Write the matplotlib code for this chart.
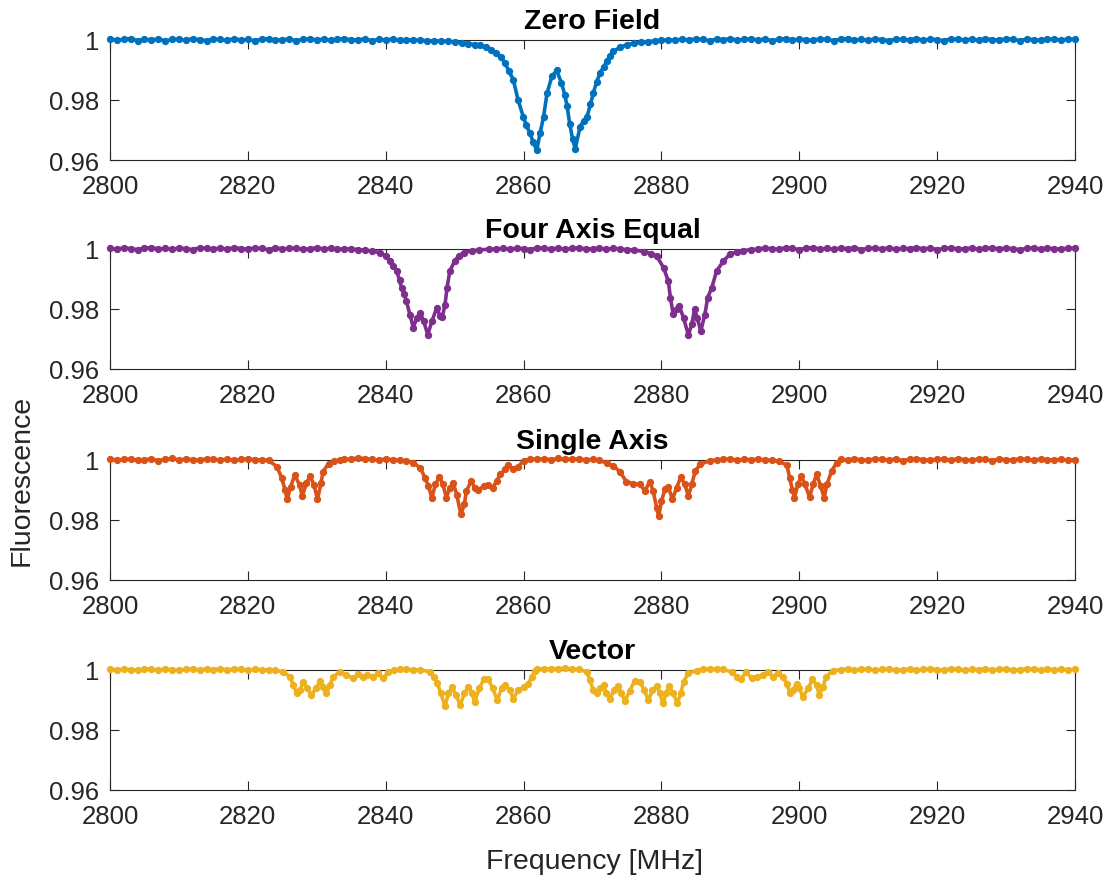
import numpy as np
import matplotlib.pyplot as plt

plt.rcParams['font.family'] = ['Liberation Sans', 'DejaVu Sans']

# ODMR spectra, normalised fluorescence vs microwave frequency (MHz)

zero_field_freq = [*range(2800, 2849),
    2849, 2850, 2851, 2852, 2853, 2853.7, 2854.5, 2855.3, 2856, 2856.7,
    2857.3, 2857.9, 2858.5, 2859.2, 2859.95, 2860.4, 2860.9, 2861.4, 2861.9, 2862.4,
    2862.9, 2863.4, 2864.1, 2864.8, 2865.5, 2866.0, 2866.3, 2866.7, 2867.1, 2867.5,
    2868.2, 2868.7, 2869.2, 2869.7, 2870.1, 2870.6, 2871.1, 2871.6, 2872.1, 2872.5,
    2873.0, 2874, 2875, 2876, 2877, 2878, 2879, 2880,
    *range(2881, 2941)]
zero_field = [
    1.0003, 0.9998, 1.0001, 1.0004, 0.9997, 1.0002, 0.9999, 1.0003, 0.9996, 1.0001,
    1.0002, 0.9998, 1.0004, 1.0000, 0.9997, 1.0002, 1.0001, 0.9998, 1.0003, 0.9999,
    1.0001, 0.9996, 1.0002, 1.0003, 0.9998, 1.0000, 1.0002, 0.9997, 1.0001, 1.0003,
    0.9999, 1.0002, 0.9998, 1.0001, 1.0004, 0.9999, 1.0000, 1.0002, 0.9997, 1.0001,
    0.9999, 1.0002, 0.9998, 1.0000, 0.9999, 0.9998, 0.9997, 0.9996, 0.9996,
    0.9995, 0.9993, 0.9990, 0.9987, 0.9984, 0.9982, 0.9975, 0.9966, 0.9955, 0.9942,
    0.9922, 0.9895, 0.9867, 0.9800, 0.9744, 0.9715, 0.9690, 0.9660, 0.9633, 0.9690,
    0.9744, 0.9822, 0.9878, 0.9898, 0.9856, 0.9815, 0.9780, 0.9720, 0.9670, 0.9638,
    0.9711, 0.9730, 0.9744, 0.9785, 0.9822, 0.9860, 0.9889, 0.9910, 0.9928, 0.9945,
    0.9961, 0.9975, 0.9983, 0.9988, 0.9992, 0.9994, 0.9996, 0.9998,
    1.0000, 0.9998, 1.0002, 0.9999, 1.0003, 1.0001, 0.9997, 1.0002, 1.0000, 1.0004,
    0.9998, 1.0001, 1.0003, 0.9999, 1.0002, 0.9997, 1.0001, 1.0004, 0.9999, 1.0002,
    1.0000, 0.9998, 1.0003, 1.0001, 0.9997, 1.0002, 1.0004, 0.9999, 1.0001, 0.9998,
    1.0003, 1.0000, 0.9997, 1.0002, 1.0001, 0.9999, 1.0004, 0.9998, 1.0002, 1.0000,
    0.9997, 1.0003, 1.0001, 0.9999, 1.0002, 0.9998, 1.0004, 1.0000, 0.9999, 1.0003,
    1.0001, 0.9997, 1.0002, 1.0000, 0.9998, 1.0003, 1.0001, 0.9999, 1.0002, 1.0001]

four_axis_freq = [*range(2800, 2837),
    2837, 2838, 2839.2, 2840, 2840.6, 2841.1, 2841.6, 2842.0, 2842.3, 2842.7,
    2843.0, 2843.5, 2844.0, 2844.5, 2845.0, 2845.5, 2846.1, 2846.7, 2847.4, 2847.9,
    2848.2, 2848.6, 2848.9, 2849.3, 2850.0, 2850.6, 2851.3, 2852.5, 2853.5, 2855,
    *range(2856, 2877),
    2877.5, 2878.5, 2879.3, 2880.3, 2881.0, 2881.3, 2881.7, 2882.2, 2882.6, 2883.2,
    2883.9, 2884.4, 2884.8, 2885.2, 2885.7, 2886.3, 2886.7, 2887.3, 2888.0, 2889.0,
    2889.9, 2891.0, 2891.9, 2893.0,
    *range(2894, 2941)]
four_axis = [
    1.0001, 0.9998, 1.0003, 1.0000, 0.9997, 1.0002, 1.0004, 0.9999, 1.0001, 0.9998,
    1.0002, 1.0000, 0.9997, 1.0003, 1.0001, 0.9999, 1.0002, 0.9998, 1.0004, 1.0000,
    0.9999, 1.0002, 1.0001, 0.9997, 1.0003, 0.9999, 1.0001, 1.0002, 0.9998, 1.0000,
    1.0003, 0.9999, 1.0001, 0.9998, 1.0000, 0.9999, 0.9997,
    0.9995, 0.9992, 0.9987, 0.9975, 0.9959, 0.9943, 0.9926, 0.9895, 0.9870, 0.9848,
    0.9826, 0.9781, 0.9737, 0.9770, 0.9787, 0.9759, 0.9714, 0.9759, 0.9803, 0.9776,
    0.9772, 0.9814, 0.9870, 0.9926, 0.9959, 0.9976, 0.9987, 0.9993, 0.9996, 0.9998,
    0.9999, 1.0001, 0.9998, 1.0002, 1.0000, 0.9997, 1.0003, 1.0001, 0.9999, 1.0002,
    0.9998, 1.0001, 1.0003, 0.9999, 1.0000, 1.0002, 0.9998, 1.0001, 0.9999, 0.9997,
    0.9996,
    0.9990, 0.9984, 0.9976, 0.9937, 0.9892, 0.9837, 0.9783, 0.9800, 0.9809, 0.9770,
    0.9714, 0.9748, 0.9798, 0.9770, 0.9726, 0.9781, 0.9837, 0.9870, 0.9926, 0.9959,
    0.9981, 0.9990, 0.9994, 0.9997,
    0.9999, 1.0002, 1.0000, 0.9998, 1.0003, 1.0001, 0.9997, 1.0002, 1.0004, 0.9999,
    1.0001, 0.9998, 1.0002, 1.0000, 1.0003, 0.9997, 1.0001, 1.0002, 0.9999, 1.0003,
    0.9998, 1.0001, 1.0000, 1.0004, 0.9999, 1.0002, 0.9997, 1.0001, 1.0003, 0.9999,
    1.0000, 1.0002, 0.9998, 1.0001, 1.0003, 0.9999, 1.0002, 1.0000, 0.9997, 1.0001,
    1.0003, 0.9999, 1.0002, 1.0000, 0.9998, 1.0002, 1.0001]

single_axis_freq = [*range(2800, 2824),
    2824.2, 2824.9, 2825.4, 2825.7, 2826.2, 2826.8, 2827.5, 2827.9, 2828.5, 2829.0,
    2829.6, 2830.1, 2830.6, 2830.9, 2831.7, 2832.5, 2833.4,
    *range(2834, 2844),
    2844.0, 2845.0, 2845.7, 2846.2, 2846.7, 2847.2, 2847.8, 2848.3, 2848.8, 2849.3,
    2849.8, 2850.3, 2850.9, 2851.4, 2851.7, 2852.4, 2852.9, 2853.4, 2854.2, 2854.9,
    2855.5, 2856.1, 2856.6, 2857.3, 2857.8, 2858.5, 2859.2, 2860.0,
    *range(2861, 2872),
    2872.1, 2873.0, 2874.0, 2874.9, 2875.9, 2876.9, 2877.6, 2878.3, 2878.8, 2879.3,
    2879.6, 2880.0, 2880.5, 2881.0, 2881.6, 2882.2, 2882.8, 2883.4, 2883.9, 2884.4,
    2884.9, 2885.6, 2887.0,
    *range(2888, 2898),
    2898.2, 2898.6, 2899.0, 2899.3, 2899.8, 2900.3, 2900.8, 2901.5, 2902.0, 2902.5,
    2903.1, 2903.6, 2904.0, 2904.7, 2905.4,
    *range(2906, 2941)]
single_axis = [
    1.0002, 0.9999, 1.0001, 1.0003, 0.9998, 1.0000, 1.0002, 0.9997, 1.0001, 1.0004,
    0.9999, 1.0002, 1.0000, 0.9998, 1.0003, 1.0001, 0.9999, 1.0002, 0.9998, 1.0001,
    1.0003, 1.0000, 0.9999, 0.9998,
    0.9977, 0.9940, 0.9899, 0.9868, 0.9910, 0.9949, 0.9916, 0.9879, 0.9921, 0.9946,
    0.9916, 0.9868, 0.9921, 0.9960, 0.9987, 0.9995, 0.9999,
    1.0001, 1.0002, 1.0006, 1.0003, 1.0001, 0.9999, 1.0002, 1.0000, 0.9998, 0.9996,
    0.9990, 0.9973, 0.9940, 0.9912, 0.9873, 0.9918, 0.9942, 0.9918, 0.9873, 0.9907,
    0.9923, 0.9884, 0.9818, 0.9851, 0.9896, 0.9929, 0.9907, 0.9898, 0.9912, 0.9916,
    0.9907, 0.9929, 0.9951, 0.9968, 0.9982, 0.9968, 0.9976, 0.9997,
    1.0001, 1.0003, 1.0002, 1.0000, 1.0004, 1.0002, 1.0001, 1.0003, 0.9999, 1.0001,
    0.9998,
    0.9988, 0.9979, 0.9960, 0.9927, 0.9920, 0.9918, 0.9896, 0.9927, 0.9896, 0.9840,
    0.9812, 0.9862, 0.9901, 0.9909, 0.9868, 0.9907, 0.9942, 0.9918, 0.9879, 0.9918,
    0.9962, 0.9984, 0.9997,
    0.9999, 1.0001, 1.0002, 0.9998, 1.0001, 1.0000, 1.0002, 0.9999, 0.9998, 0.9995,
    0.9982, 0.9939, 0.9899, 0.9874, 0.9918, 0.9946, 0.9918, 0.9876, 0.9918, 0.9951,
    0.9912, 0.9873, 0.9918, 0.9962, 0.9990,
    1.0001, 0.9999, 1.0002, 1.0000, 0.9998, 1.0003, 1.0001, 0.9999, 1.0002, 0.9997,
    1.0001, 1.0003, 1.0000, 0.9998, 1.0002, 1.0001, 0.9999, 1.0003, 1.0000, 0.9998,
    1.0002, 1.0001, 0.9997, 1.0002, 1.0000, 0.9999, 1.0003, 1.0001, 0.9998, 1.0002,
    1.0000, 0.9999, 1.0001, 0.9998, 1.0000]

vector_freq = [*range(2800, 2825),
    2825.1, 2826.1, 2826.6, 2827.1, 2827.6, 2828.0, 2828.6, 2829.2, 2829.9, 2830.5,
    2830.9, 2831.4, 2831.9, 2832.4, 2833.4, 2834.3, 2835.3, 2836.0, 2836.7, 2837.3,
    2838.2, 2838.9, 2839.6, 2840.4, 2841.2,
    *range(2842, 2846),
    2846.4, 2847.0, 2847.5, 2848.0, 2848.6, 2849.1, 2849.6, 2850.2, 2850.8, 2851.4,
    2852.0, 2852.5, 2852.9, 2853.6, 2854.2, 2854.9, 2855.5, 2856.2, 2856.8, 2857.3,
    2858.0, 2858.5, 2859.2, 2860.0, 2860.7, 2861.2, 2861.7,
    *range(2862, 2869),
    2869.2, 2869.6, 2870.1, 2870.6, 2871.1, 2871.6, 2872.0, 2872.5, 2873.1, 2873.7,
    2874.2, 2874.7, 2875.4, 2876.1, 2876.9, 2877.5, 2878.1, 2878.7, 2879.3, 2879.8,
    2880.2, 2880.7, 2881.1, 2881.7, 2882.3, 2882.8, 2883.2, 2883.9, 2885.1,
    *range(2886, 2890),
    2890.2, 2890.9, 2891.5, 2892.3, 2893.1, 2893.8, 2894.8, 2895.5, 2896.2, 2896.9,
    2897.6, 2898.2, 2898.6, 2899.1, 2899.6, 2900.0, 2900.5, 2901.3, 2901.9, 2902.5,
    2902.9, 2903.4, 2903.9, 2904.9,
    *range(2906, 2941)]
vector = [
    1.0001, 0.9999, 1.0002, 1.0000, 0.9998, 1.0003, 1.0001, 0.9999, 1.0002, 1.0000,
    0.9998, 1.0001, 1.0003, 0.9999, 1.0002, 1.0000, 1.0004, 0.9999, 1.0001, 1.0002,
    0.9998, 1.0001, 1.0000, 0.9999, 0.9998,
    0.9993, 0.9977, 0.9949, 0.9921, 0.9932, 0.9960, 0.9938, 0.9916, 0.9938, 0.9963,
    0.9943, 0.9921, 0.9949, 0.9977, 0.9993, 0.9982, 0.9971, 0.9986, 0.9977, 0.9982,
    0.9977, 0.9988, 0.9971, 0.9993, 0.9998,
    1.0001, 1.0002, 0.9999, 1.0000,
    0.9993, 0.9977, 0.9955, 0.9921, 0.9878, 0.9921, 0.9941, 0.9916, 0.9882, 0.9921,
    0.9943, 0.9921, 0.9893, 0.9938, 0.9968, 0.9968, 0.9938, 0.9899, 0.9938, 0.9949,
    0.9932, 0.9904, 0.9932, 0.9941, 0.9954, 0.9977, 0.9997,
    1.0003, 1.0002, 1.0004, 1.0003, 1.0005, 1.0002, 1.0001,
    0.9993, 0.9966, 0.9932, 0.9921, 0.9938, 0.9949, 0.9921, 0.9901, 0.9932, 0.9946,
    0.9921, 0.9896, 0.9930, 0.9962, 0.9960, 0.9932, 0.9899, 0.9932, 0.9946, 0.9921,
    0.9888, 0.9921, 0.9946, 0.9921, 0.9888, 0.9921, 0.9960, 0.9988, 0.9997,
    1.0002, 1.0001, 1.0003, 1.0001,
    0.9992, 0.9977, 0.9968, 0.9993, 0.9971, 0.9977, 0.9982, 0.9993, 0.9977, 0.9988,
    0.9975, 0.9954, 0.9921, 0.9932, 0.9954, 0.9938, 0.9910, 0.9938, 0.9968, 0.9949,
    0.9916, 0.9943, 0.9977, 0.9997,
    1.0000, 1.0002, 0.9999, 1.0001, 1.0003, 0.9998, 1.0001, 1.0002, 0.9999, 1.0000,
    1.0002, 0.9998, 1.0001, 1.0003, 1.0000, 0.9999, 1.0002, 1.0001, 0.9998, 1.0002,
    1.0000, 1.0003, 0.9999, 1.0001, 1.0002, 0.9998, 1.0000, 1.0003, 1.0001, 0.9999,
    1.0002, 1.0000, 1.0001, 0.9999, 1.0002]

titles = ['Zero Field', 'Four Axis Equal', 'Single Axis', 'Vector']
colors = ['#0072BD', '#7E2F8E', '#D95319', '#EDB120']
x_ticks = [2800, 2820, 2840, 2860, 2880, 2900, 2920, 2940]
y_ticks = [0.96, 0.98, 1.0]
y_ticklabels = ['0.96', '0.98', '1']

freqs = [zero_field_freq, four_axis_freq, single_axis_freq, vector_freq]
spectra = [zero_field, four_axis, single_axis, vector]

fig = plt.figure(figsize=(11.1, 8.78), dpi=100)
bottoms = [0.8166, 0.5786, 0.3383, 0.0991]
axcol = '#262626'

for i in range(4):
    ax = fig.add_axes([0.0991, bottoms[i], 0.8694, 0.137])
    ax.plot(freqs[i], spectra[i], '.-', color=colors[i], lw=2.6, ms=8.5,
            clip_on=False, zorder=3)
    ax.set_xlim(2800, 2940)
    ax.set_ylim(0.96, 1.0)
    ax.set_xticks(x_ticks)
    ax.set_yticks(y_ticks)
    ax.set_yticklabels(y_ticklabels)
    ax.tick_params(direction='in', top=True, right=True, length=6.5,
                   width=0.8, color=axcol, labelcolor=axcol, labelsize=18.5)
    ax.tick_params(axis='x', pad=10)
    ax.tick_params(axis='y', pad=8)
    for s in ax.spines.values():
        s.set_color(axcol)
        s.set_linewidth(0.8)
    ax.set_title(titles[i], fontsize=20.5, fontweight='bold', pad=8.4)

fig.text(0.5356, 1 - 869 / 878, 'Frequency [MHz]', ha='center', va='baseline',
         fontsize=20.5, color=axcol)
fig.text(22 / 1110, 1 - 480 / 878, 'Fluorescence', ha='center', va='center',
         rotation=90, fontsize=20.5, color=axcol)

fig.savefig('out.png', dpi=100)
